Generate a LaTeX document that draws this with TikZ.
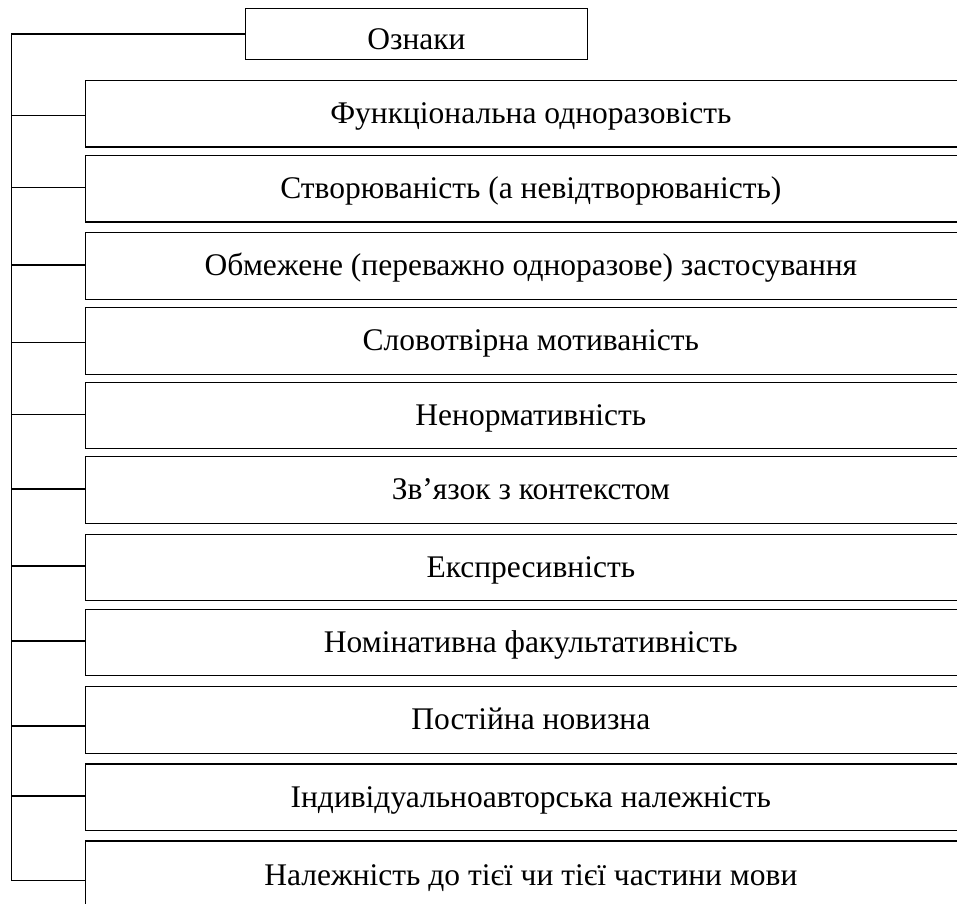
\documentclass[tikz,border=0pt]{standalone}
\usepackage{fontspec}
\setmainfont{Liberation Serif}
\begin{document}
\begin{tikzpicture}[x=1pt,y=-1pt,line width=1.1pt,
  txt/.style={font=\fontsize{31.5}{36}\selectfont},
  box/.style={rectangle, anchor=north west, inner sep=0pt, outer sep=0pt,
    minimum width=890.3pt, minimum height=66.5pt, text height=27.5pt, text depth=8pt, txt},
  lastbox/.style={box, minimum height=85pt, text height=16pt, text depth=12pt},
  topbox/.style={draw, rectangle, anchor=north west, inner sep=0pt, outer sep=0pt,
    minimum width=341.6pt, minimum height=51.4pt, text height=31.4pt, text depth=0pt, txt},
  frame/.style={draw, line width=1.1pt},
  link/.style={draw, line width=1.1pt}]
\useasboundingbox (0,0) rectangle (958,904);
\node[topbox] (top) at (245.7,8.3) {Ознаки};
\node[box] (b1) at (85.7,80.5) {Функціональна одноразовість};
\node[box] (b2) at (85.7,155.5) {Створюваність (а невідтворюваність)};
\node[box] (b3) at (85.7,232.7) {Обмежене (переважно одноразове) застосування};
\node[box] (b4) at (85.7,307.7) {Словотвірна мотиваність};
\node[box] (b5) at (85.7,382.3) {Ненормативність};
\node[box] (b6) at (85.7,456.9) {Зв’язок з контекстом};
\node[box] (b7) at (85.7,534.2) {Експресивність};
\node[box] (b8) at (85.7,609.3) {Номінативна факультативність};
\node[box] (b9) at (85.7,686.7) {Постійна новизна};
\node[box] (b10) at (85.7,764) {Індивідуальноавторська належність};
\node[lastbox] (b11) at (85.7,841) {Належність до тієї чи тієї частини мови};
\coordinate (edge) at (956.5,0);
\foreach \i in {1,...,10} {\draw[frame] (b\i.north -| edge) -- (b\i.north west) -- (b\i.south west) -- (b\i.south -| edge);}
\coordinate (bottom) at (0,904);
\draw[frame] (b11.north -| edge) -- (b11.north west) -- (b11.west |- bottom);
\coordinate (c1) at (11.5,115.7);
\coordinate (c2) at (11.5,187.7);
\coordinate (c3) at (11.5,265);
\coordinate (c4) at (11.5,342.3);
\coordinate (c5) at (11.5,414.3);
\coordinate (c6) at (11.5,489);
\coordinate (c7) at (11.5,566);
\coordinate (c8) at (11.5,641);
\coordinate (c9) at (11.5,726);
\coordinate (c10) at (11.5,796);
\coordinate (c11) at (11.5,880.7);
\draw[link] (top.west) -| (c11);
\foreach \i in {1,...,11} {\draw[link] (c\i) -- (c\i -| b\i.west);}
\end{tikzpicture}
\end{document}
